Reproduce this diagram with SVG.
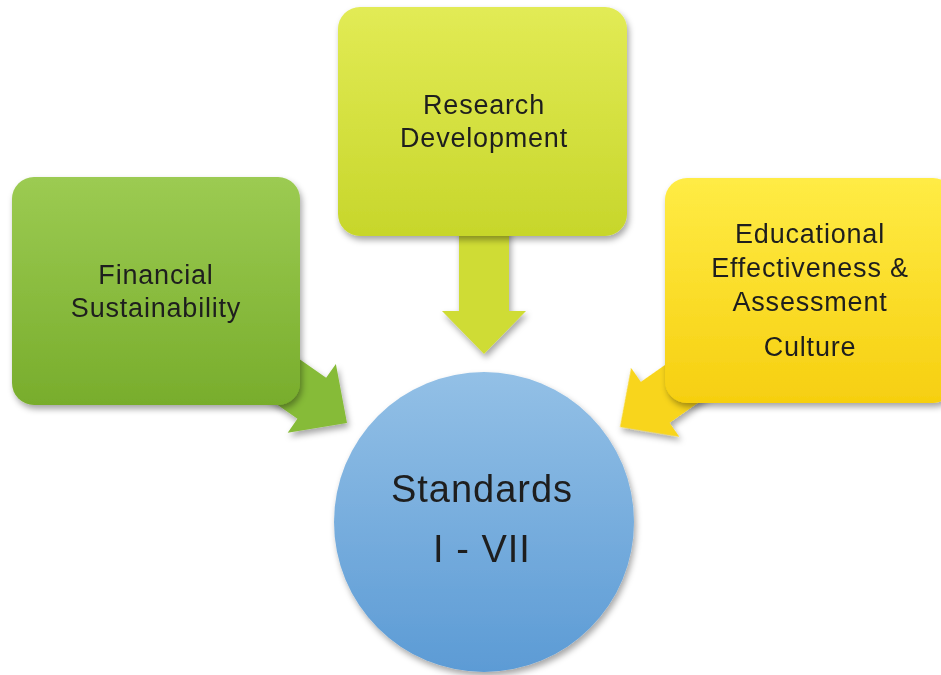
<svg xmlns="http://www.w3.org/2000/svg" width="941" height="675" viewBox="0 0 941 675">
<style>
.t{font-family:"Liberation Sans","Noto Sans",sans-serif;fill:#1e1e1e;text-anchor:middle}
.s{font-size:27px;letter-spacing:0.8px}
.b{font-size:38px;letter-spacing:1px}
</style>
<defs>
<linearGradient id="gGreen" x1="0" y1="0" x2="0" y2="1"><stop offset="0" stop-color="#9ccb52"/><stop offset="1" stop-color="#78ad2c"/></linearGradient>
<linearGradient id="gLime" x1="0" y1="0" x2="0" y2="1"><stop offset="0" stop-color="#e2eb55"/><stop offset="1" stop-color="#c7d62b"/></linearGradient>
<linearGradient id="gYellow" x1="0" y1="0" x2="0" y2="1"><stop offset="0" stop-color="#ffec45"/><stop offset="1" stop-color="#f6cf10"/></linearGradient>
<linearGradient id="gBlue" x1="0" y1="0" x2="0" y2="1"><stop offset="0" stop-color="#93c0e6"/><stop offset="1" stop-color="#5c9bd5"/></linearGradient>
<filter id="sh" x="-10%" y="-10%" width="125%" height="125%"><feDropShadow dx="2" dy="4" stdDeviation="3" flood-color="#000" flood-opacity="0.35"/></filter>
<polygon id="arrow" points="-43,-42 0,0 -43,42 -43,25 -130,25 -130,-25 -43,-25"/>
</defs>
<rect width="941" height="675" fill="#ffffff"/>
<g id="connectors" filter="url(#sh)">
<use href="#arrow" transform="translate(347,423) rotate(35)" fill="#86bb38"/>
<use href="#arrow" transform="translate(484,354) rotate(90)" fill="#cfdc35"/>
<use href="#arrow" transform="translate(620,427) rotate(145)" fill="#f8d51c"/>
</g>
<g id="financial">
<rect x="12" y="177" width="288" height="228" rx="22" fill="url(#gGreen)" filter="url(#sh)"/>
<text class="t s" x="156" y="284">Financial</text>
<text class="t s" x="156" y="317">Sustainability</text>
</g>
<g id="research">
<rect x="338" y="7" width="289" height="229" rx="22" fill="url(#gLime)" filter="url(#sh)"/>
<text class="t s" x="484" y="114">Research</text>
<text class="t s" x="484" y="147">Development</text>
</g>
<g id="educational">
<rect x="665" y="178" width="290" height="225" rx="22" fill="url(#gYellow)" filter="url(#sh)"/>
<text class="t s" x="810" y="243">Educational</text>
<text class="t s" x="810" y="277">Effectiveness &amp;</text>
<text class="t s" x="810" y="311">Assessment</text>
<text class="t s" x="810" y="356">Culture</text>
</g>
<g id="standards">
<circle cx="484" cy="522" r="150" fill="url(#gBlue)" filter="url(#sh)"/>
<text class="t b" x="482" y="502">Standards</text>
<text class="t b" x="482" y="562">I - VII</text>
</g>
</svg>
